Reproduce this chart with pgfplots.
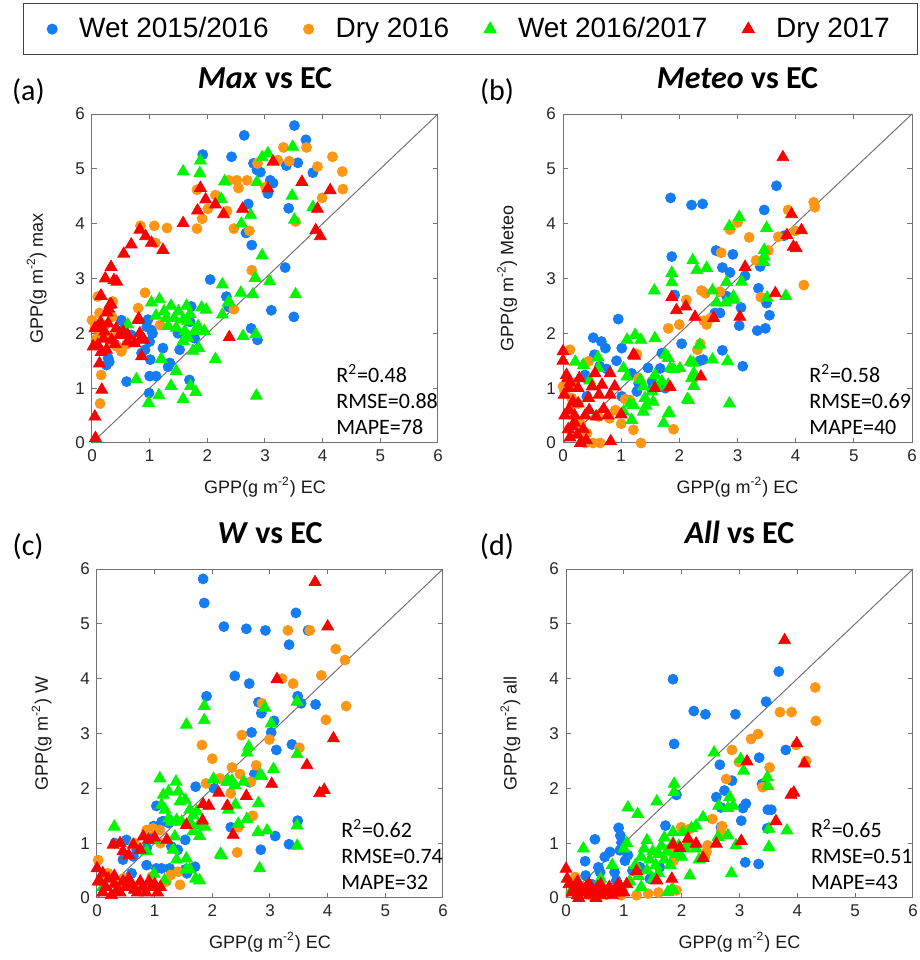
\documentclass[border=0pt]{standalone}
\usepackage{fontspec}
\setmainfont{Liberation Sans}
\newfontfamily\calibri{Carlito}
\usepackage{pgfplots}
\pgfplotsset{compat=1.18}

\definecolor{cblue}{RGB}{20,125,245}
\definecolor{corange}{RGB}{255,150,20}
\definecolor{cgreen}{RGB}{0,245,0}
\definecolor{cred}{RGB}{250,0,0}

\pgfplotsset{
  panel/.style={
    scale only axis, height=164.5pt,
    xmin=0, xmax=6, ymin=0, ymax=6,
    xtick={0,1,...,6}, ytick={0,1,...,6},
    tick align=inside, major tick length=2.5pt,
    axis line style={black!55, line width=0.5pt},
    every tick/.style={black!55, line width=0.5pt},
    ticklabel style={font=\fontsize{8.5}{10}\selectfont, text=black!85},
    /pgf/number format/assume math mode=true,
    label style={font=\fontsize{9}{10}\selectfont, text=black!90},
    xlabel={GPP(g m\textsuperscript{-2}) EC},
    xlabel style={at={(axis description cs:0.5,-0.134)}, anchor=center},
    ylabel style={at={(axis description cs:-0.16,0.5)}, anchor=center},
    title style={at={(axis description cs:0.5,1)}, anchor=base, yshift=6.6pt,
      inner sep=0pt, font=\calibri\bfseries\fontsize{16}{17}\selectfont},
    clip=false,
  },
  wetA/.style={only marks, mark=*, mark size=2.5pt, color=cblue},
  dryA/.style={only marks, mark=*, mark size=2.5pt, color=corange},
  wetB/.style={only marks, mark=triangle*, mark size=3.4pt, color=cgreen},
  dryB/.style={only marks, mark=triangle*, mark size=3.4pt, color=cred},
  dotleg/.style={legend image code/.code={\draw[##1] plot coordinates {(0pt,0pt)};}},
  oneone/.style={black!55, line width=0.5pt, forget plot},
}

\newcommand{\stats}[3]{\node[anchor=north west, inner sep=0pt, align=left,
  font=\calibri\fontsize{11}{12.8}\selectfont] at (axis cs:4.23,1.43)
  {R\textsuperscript{2}=#1\\RMSE=#2\\MAPE=#3};}
\newcommand{\panellabel}[2]{\node[anchor=base, inner sep=0pt, yshift=6.6pt,
  font=\calibri\fontsize{15}{16}\selectfont] at (axis description cs:#1,1) {#2};}

\begin{document}
\begin{tikzpicture}
\useasboundingbox (0,0) rectangle (460pt,480pt);

% (a) Max vs EC
\begin{axis}[panel, at={(46pt,258.5pt)}, anchor=south west, width=173pt,
  ylabel={GPP(g m\textsuperscript{-2}) max}, title={\textit{Max} vs EC},
  legend columns=4,
  legend style={at={(axis description cs:1.094,1.258)}, anchor=center,
    draw=black!75, line width=0.5pt, font=\fontsize{14}{16}\selectfont,
    inner xsep=12pt, inner ysep=5pt,
    /tikz/every odd column/.append style={column sep=9pt},
    /tikz/every even column/.append style={column sep=15.5pt}},
]
\addplot[wetA, dotleg] coordinates {
(3.51,5.79) (3.71,5.53) (2.64,5.61) (1.92,5.26) (2.42,5.22) (3.57,5.11) (3.37,5.06) (3.83,4.93)
(2.80,5.10) (2.86,4.98) (2.92,4.94) (3.09,4.79) (3.14,4.74) (3.05,4.55) (2.71,4.36) (3.41,4.28)
(2.67,3.83) (2.77,3.61) (3.35,3.20) (2.05,2.98) (2.33,2.67) (2.37,2.48) (3.11,2.42) (3.50,2.30)
(2.76,2.09) (2.87,1.88) (1.72,2.49) (1.70,2.21) (1.49,2.00) (1.52,1.70) (1.35,1.46) (1.32,1.39)
(1.23,1.73) (1.01,1.52) (1.11,1.22) (1.00,1.22) (0.99,0.91) (0.60,1.12) (1.69,1.15) (0.97,2.25)
(0.95,2.12) (1.03,2.06) (1.00,1.85) (0.92,1.70) (0.51,2.24) (0.28,1.55) (0.25,1.42) (0.86,1.64)
(0.68,1.97) (1.78,1.91) (0.52,2.06) (1.05,2.00) (0.40,1.80) (0.30,1.48)
};
\addplot[dryA, dotleg] coordinates {
(3.72,5.39) (3.32,5.39) (3.22,5.16) (3.42,5.14) (4.17,5.22) (4.34,4.95) (3.91,5.04) (4.35,4.63)
(3.99,4.47) (3.53,4.04) (2.87,5.10) (3.01,4.67) (2.69,4.79) (2.51,4.79) (2.37,4.79) (2.54,4.65)
(2.14,4.52) (2.01,4.27) (1.82,4.62) (1.91,4.09) (1.82,3.91) (2.34,4.23) (2.46,3.91) (2.73,3.87)
(2.77,3.15) (2.46,2.44) (0.84,3.96) (1.08,3.96) (1.30,3.92) (1.10,3.65) (0.92,2.74) (0.80,2.46)
(1.18,2.15) (0.10,2.67) (0.36,2.58) (0.00,2.24) (0.13,2.37) (0.16,2.03) (0.31,1.85) (0.51,1.67)
(0.43,1.76) (0.16,1.24) (0.14,0.72) (0.05,2.10) (0.22,2.15) (0.28,1.95) (0.60,1.80) (0.35,2.30)
(0.08,1.90) (0.45,2.00)
};
\addplot[wetB, dotleg] coordinates {
(3.48,5.40) (3.05,5.28) (2.95,5.21) (1.88,5.15) (1.58,4.95) (1.87,4.92) (2.86,4.76) (2.30,4.77)
(2.24,4.45) (3.47,4.51) (3.83,4.30) (3.51,4.07) (2.75,4.16) (2.59,4.00) (2.95,3.42) (2.83,3.01)
(3.08,2.95) (2.26,2.89) (2.38,2.57) (2.58,2.74) (2.79,2.71) (3.53,2.71) (2.26,2.34) (2.62,1.95)
(2.84,1.98) (2.85,0.86) (2.14,1.53) (1.03,2.56) (1.17,2.62) (1.37,2.50) (1.64,2.50) (1.90,2.47)
(1.98,2.43) (2.36,2.56) (1.11,2.32) (1.29,2.28) (1.43,2.28) (1.58,2.25) (1.66,2.22) (1.32,2.13)
(1.46,2.10) (1.61,2.04) (1.78,2.04) (1.95,2.04) (1.84,2.13) (1.66,1.92) (1.58,1.86) (1.75,1.68)
(1.85,1.73) (1.20,1.53) (0.77,1.16) (1.46,1.31) (1.37,1.04) (1.71,1.04) (1.80,0.93) (1.58,0.80)
(0.98,0.73) (1.16,0.87) (0.62,2.16) (1.25,2.40) (1.50,2.40) (1.70,2.35)
};
\addplot[dryB, dotleg] coordinates {
(3.14,5.13) (3.64,4.76) (4.13,4.61) (3.05,4.64) (3.91,4.27) (3.88,3.88) (3.96,3.77) (1.88,4.65)
(1.97,4.44) (2.14,4.35) (1.83,4.24) (2.28,4.17) (2.61,4.27) (1.58,4.01) (0.83,3.89) (0.93,3.77)
(1.03,3.65) (0.68,3.62) (0.55,3.45) (1.23,3.52) (0.33,3.21) (0.23,3.00) (0.38,2.97) (0.43,2.94)
(0.16,2.68) (0.29,2.45) (0.33,2.53) (2.38,1.93) (0.81,2.27) (0.86,1.58) (0.02,1.76) (0.10,1.79)
(0.25,1.70) (0.16,1.66) (0.28,2.18) (0.22,2.03) (0.42,2.09) (0.54,2.03) (0.48,1.97) (0.62,1.85)
(0.74,1.82) (0.85,1.91) (0.90,1.88) (0.83,2.00) (0.80,2.24) (0.31,2.52) (0.26,2.38) (0.10,2.12)
(0.05,2.09) (0.13,1.45) (0.17,0.97) (0.05,0.48) (0.06,0.09) (0.15,2.68) (0.62,1.97) (0.34,1.88)
(0.20,1.90) (0.40,1.80) (0.15,2.20)
};
\addplot[oneone] coordinates {(0,0) (6,6)};
\legend{Wet 2015/2016, Dry 2016, Wet 2016/2017, Dry 2017}
\stats{0.48}{0.88}{78}
\panellabel{-0.184}{(a)}
\end{axis}

% (b) Meteo vs EC
\begin{axis}[panel, at={(281.5pt,258.5pt)}, anchor=south west, width=174.5pt,
  ylabel={GPP(g m\textsuperscript{-2}) Meteo}, title={\textit{Meteo} vs EC}]
\addplot[wetA] coordinates {
(3.67,4.69) (1.85,4.47) (2.21,4.34) (2.40,4.36) (3.46,4.25) (1.87,3.40) (2.63,3.51) (2.92,3.44)
(2.74,3.20) (2.87,3.11) (3.13,3.05) (3.39,3.22) (3.36,2.82) (1.92,2.70) (2.81,2.68) (3.50,2.55)
(3.06,2.47) (3.55,2.33) (2.61,2.37) (2.70,2.37) (3.03,2.14) (3.34,2.05) (3.48,2.09) (2.74,1.69)
(2.41,1.52) (3.09,1.40) (2.04,1.81) (0.95,2.26) (0.52,1.92) (0.66,1.85) (0.73,1.73) (1.01,1.73)
(0.54,1.61) (0.92,1.50) (1.18,1.27) (1.30,1.09) (1.70,1.64) (1.67,1.36) (1.46,1.37) (0.38,1.24)
(0.36,1.20) (1.53,1.12) (1.53,0.97) (0.41,0.85) (1.01,0.85) (1.27,0.94) (1.76,1.00) (0.63,1.40)
(0.75,1.35) (3.80,3.78) (2.35,1.50)
};
\addplot[dryA] coordinates {
(4.31,4.39) (4.33,4.30) (3.87,4.25) (3.00,4.02) (2.87,3.89) (3.20,3.75) (3.70,3.76) (3.99,3.87)
(4.14,2.88) (3.32,3.33) (3.53,3.51) (2.72,3.47) (2.38,2.78) (2.45,2.73) (2.70,2.76) (3.40,2.66)
(2.12,2.61) (2.42,2.23) (2.47,2.16) (2.54,2.28) (1.81,2.09) (2.00,2.16) (2.31,1.70) (2.36,1.81)
(0.12,1.70) (0.38,1.44) (0.44,1.49) (0.00,1.03) (0.03,0.94) (0.15,0.82) (0.61,0.48) (1.21,0.24)
(1.90,0.25) (1.34,0.00) (0.52,0.00) (0.64,0.00) (0.38,0.00) (1.15,0.78) (1.07,0.80) (1.30,1.18)
(1.27,1.62) (0.20,1.10) (0.26,0.72) (0.12,0.60) (0.41,0.18) (0.10,0.25) (0.90,0.60) (0.80,0.45)
(1.00,0.35) (0.30,0.35)
};
\addplot[wetB] coordinates {
(3.03,4.12) (2.86,3.95) (3.50,3.92) (3.46,3.52) (3.46,3.40) (2.23,3.33) (2.30,3.15) (2.47,3.19)
(1.87,3.10) (1.87,2.93) (1.57,2.78) (2.57,2.78) (2.64,2.56) (2.80,2.56) (2.93,2.67) (2.94,2.61)
(3.07,2.94) (2.81,2.93) (3.51,2.65) (3.83,2.68) (2.86,0.72) (2.57,1.52) (2.83,1.49) (2.35,1.79)
(2.24,1.46) (2.25,1.27) (2.25,1.04) (2.14,0.80) (1.83,0.55) (1.73,0.36) (1.24,1.97) (1.34,1.88)
(1.10,1.88) (1.58,1.91) (1.76,1.61) (1.81,1.55) (2.01,1.36) (2.19,1.48) (2.21,1.18) (2.16,0.78)
(1.81,0.54) (0.21,1.48) (0.35,1.42) (0.60,1.56) (0.61,1.36) (0.46,1.14) (1.04,1.36) (1.10,1.21)
(1.33,1.15) (1.38,1.03) (1.58,1.24) (1.70,1.12) (1.61,1.03) (1.53,0.94) (1.41,0.82) (1.21,0.69)
(1.38,0.57) (1.04,0.57) (1.15,0.72) (1.18,0.42) (1.43,0.68) (1.55,0.75) (1.84,1.36) (1.81,1.06)
(1.90,1.35) (3.45,3.30)
};
\addplot[dryB] coordinates {
(3.78,5.21) (3.93,4.17) (4.10,3.88) (3.85,3.79) (3.96,3.58) (4.01,3.55) (3.13,3.21) (3.65,2.73)
(3.04,2.30) (2.59,2.28) (2.27,2.30) (2.11,2.49) (1.95,2.42) (1.87,2.66) (2.37,1.21) (1.84,1.02)
(1.58,1.00) (1.23,1.59) (0.82,0.03) (0.00,1.67) (0.00,1.50) (0.06,1.24) (0.08,1.18) (0.12,1.10)
(0.10,1.00) (0.26,1.00) (0.28,1.18) (0.55,1.27) (0.81,1.27) (0.67,1.06) (0.50,1.03) (0.89,1.03)
(0.81,0.88) (0.62,0.88) (0.44,0.82) (0.26,0.72) (0.10,0.60) (0.20,0.50) (0.03,0.50) (0.38,0.50)
(0.57,0.48) (0.77,0.50) (1.00,0.52) (1.21,1.61) (0.09,0.25) (0.20,0.37) (0.12,0.10) (0.30,0.00)
(0.40,0.05) (0.02,0.88) (0.17,0.75) (0.15,0.30) (0.25,0.15) (0.35,0.25) (0.45,0.60) (0.70,0.62)
};
\addplot[oneone] coordinates {(0,0) (6,6)};
\stats{0.58}{0.69}{40}
\panellabel{-0.189}{(b)}
\end{axis}

% (c) W vs EC
\begin{axis}[panel, at={(48.5pt,31pt)}, anchor=south west, width=173pt,
  ylabel={GPP(g m\textsuperscript{-2}) W}, title={\textit{W} vs EC}]
\addplot[wetA] coordinates {
(1.84,5.82) (1.86,5.38) (2.20,4.95) (2.59,4.91) (2.92,4.88) (3.45,5.20) (3.33,4.62) (3.66,4.88)
(2.39,4.05) (2.64,3.91) (1.90,3.68) (3.48,3.68) (3.54,3.55) (3.79,3.53) (2.80,3.57) (2.85,3.37)
(3.07,3.23) (3.02,3.02) (2.68,3.02) (3.11,2.70) (3.38,2.80) (1.71,2.03) (2.03,2.00) (2.73,2.26)
(2.65,2.11) (3.48,1.41) (3.09,1.13) (3.33,0.98) (2.84,0.88) (2.32,1.29) (1.03,1.68) (1.12,1.39)
(0.98,1.31) (1.24,1.37) (1.53,1.06) (0.51,1.06) (0.31,1.00) (0.69,0.88) (0.63,0.76) (0.86,0.91)
(0.86,0.60) (1.03,0.54) (1.12,0.54) (1.26,0.54) (1.53,0.52) (1.70,0.57) (1.56,0.45) (1.29,0.94)
(1.40,0.88) (0.60,0.45) (1.15,1.40) (0.90,1.15) (0.45,0.70)
};
\addplot[dryA] coordinates {
(3.31,4.88) (3.69,4.88) (4.14,4.54) (4.30,4.34) (3.89,4.06) (3.21,4.00) (3.40,3.91) (4.32,3.50)
(3.97,3.25) (3.51,2.74) (2.86,3.55) (1.82,2.79) (2.51,2.97) (2.99,2.89) (2.00,2.54) (2.34,2.38)
(2.48,2.26) (2.76,2.42) (2.67,2.12) (1.89,2.09) (2.13,2.18) (2.32,1.91) (2.70,1.50) (2.45,1.29)
(2.43,0.83) (0.86,1.24) (1.09,1.24) (0.97,1.27) (1.28,1.41) (1.10,1.00) (1.41,0.48) (1.44,0.24)
(0.02,0.69) (0.11,0.42) (0.19,0.45) (0.46,0.36) (0.95,0.39) (1.28,0.42) (1.20,0.30) (0.65,1.00)
(0.35,0.25) (0.80,0.20)
};
\addplot[wetB] coordinates {
(1.86,3.50) (1.86,3.24) (1.55,3.16) (2.91,3.47) (3.02,3.18) (3.47,3.58) (2.63,2.76) (2.60,2.65)
(3.47,2.62) (3.06,2.35) (2.83,2.24) (2.86,2.22) (2.02,2.17) (2.28,2.12) (2.34,2.14) (2.80,1.73)
(2.60,1.44) (2.45,1.35) (2.79,1.20) (2.95,1.23) (3.47,1.32) (3.47,0.95) (2.82,0.54) (2.14,0.80)
(1.71,0.35) (1.78,0.32) (1.17,0.32) (1.55,0.52) (0.99,0.44) (0.30,1.30) (1.09,2.18) (1.37,2.12)
(1.24,1.94) (1.15,1.88) (1.41,1.94) (1.44,1.76) (1.53,1.79) (1.12,1.70) (1.18,1.61) (1.61,1.61)
(1.67,1.51) (1.73,1.58) (1.29,1.39) (1.38,1.42) (1.47,1.39) (1.61,1.39) (1.76,1.33) (1.67,1.22)
(1.78,1.13) (1.87,1.30) (1.35,1.12) (1.32,0.88) (1.55,0.72) (1.38,0.70) (1.61,0.52) (2.16,0.78)
(2.28,1.61) (2.40,1.70) (2.54,2.12) (0.86,0.85) (2.25,2.12) (2.39,2.06) (1.24,1.45) (1.00,1.05)
(0.10,0.20)
};
\addplot[dryB] coordinates {
(3.78,5.76) (4.00,4.95) (3.12,3.99) (4.10,2.91) (3.64,2.42) (3.03,2.08) (3.86,1.91) (3.94,1.97)
(2.11,1.92) (2.59,1.86) (2.26,1.68) (2.36,1.15) (1.55,1.33) (1.83,1.41) (1.84,1.71) (1.94,1.68)
(1.21,1.06) (0.80,1.12) (1.00,1.10) (0.89,1.06) (0.63,0.97) (0.28,0.97) (0.40,1.00) (0.45,0.85)
(0.55,0.78) (0.75,0.88) (0.00,0.54) (0.05,0.30) (0.15,0.20) (0.20,0.35) (0.30,0.25) (0.35,0.15)
(0.45,0.30) (0.50,0.20) (0.60,0.25) (0.65,0.15) (0.75,0.30) (0.80,0.20) (0.85,0.10) (0.90,0.30)
(1.00,0.25) (1.05,0.10) (0.95,0.20) (0.10,0.10) (0.25,0.05) (0.40,0.10) (0.55,0.35) (0.70,0.10)
(0.02,0.30) (0.10,0.45) (1.10,0.20) (0.30,0.40)
};
\addplot[oneone] coordinates {(0,0) (6,6)};
\stats{0.62}{0.74}{32}
\panellabel{-0.199}{(c)}
\end{axis}

% (d) All vs EC
\begin{axis}[panel, at={(283pt,31pt)}, anchor=south west, width=173.5pt,
  ylabel={GPP(g m\textsuperscript{-2}) all}, title={\textit{All} vs EC}]
\addplot[wetA] coordinates {
(1.85,3.99) (1.87,2.81) (2.21,3.41) (2.41,3.35) (2.93,3.35) (3.46,3.58) (3.68,4.13) (3.80,2.70)
(3.34,2.56) (2.66,2.43) (2.87,2.14) (2.74,1.96) (2.60,1.84) (2.68,1.65) (3.11,1.72) (3.06,1.64)
(3.39,2.08) (3.49,1.61) (3.55,1.61) (3.48,1.27) (3.03,1.41) (1.91,1.88) (2.68,1.29) (3.10,0.65)
(3.33,0.62) (1.72,1.32) (0.91,1.28) (0.94,1.14) (0.50,1.07) (0.33,0.67) (0.34,0.41) (0.56,0.56)
(0.67,0.75) (0.76,0.84) (1.02,0.68) (1.07,0.78) (0.93,0.87) (0.96,1.01) (0.59,0.47) (0.84,0.47)
(0.87,0.32) (1.45,0.35) (1.62,0.56) (1.28,0.56) (0.45,0.25) (1.15,0.50)
};
\addplot[dryA] coordinates {
(4.31,3.84) (4.32,3.23) (3.70,3.39) (3.90,3.39) (3.98,2.79) (4.15,2.50) (3.32,2.99) (3.20,2.90)
(3.52,2.38) (3.40,2.02) (2.87,2.70) (2.99,2.48) (2.77,2.17) (2.53,1.44) (2.70,1.31) (2.68,1.20)
(2.45,0.96) (2.43,0.84) (2.40,0.75) (1.99,1.29) (2.14,1.26) (1.86,0.68) (1.91,0.14) (1.42,0.08)
(1.22,0.05) (0.16,0.38) (0.10,0.26) (0.24,0.11) (0.41,0.05) (0.70,0.06) (1.10,0.29) (1.60,0.10)
(0.95,0.05) (1.80,0.85) (2.20,0.95) (0.30,0.20)
};
\addplot[wetB] coordinates {
(2.56,2.65) (3.02,2.53) (3.07,2.32) (3.48,2.20) (3.49,2.04) (1.87,2.08) (1.87,1.93) (1.07,1.65)
(1.24,1.53) (1.57,1.76) (2.83,1.84) (2.89,1.68) (2.64,1.68) (2.80,1.64) (2.80,1.14) (2.63,1.11)
(3.51,1.26) (3.82,1.23) (3.51,0.93) (2.94,0.96) (2.86,0.45) (0.30,0.90) (2.37,1.47) (2.25,1.32)
(2.17,1.27) (2.02,1.20) (1.85,1.20) (1.20,0.60) (1.30,0.75) (1.35,0.90) (1.40,0.50) (1.45,0.70)
(1.50,0.85) (1.55,0.60) (1.60,0.80) (1.65,0.95) (1.70,0.70) (1.75,0.85) (1.80,0.60) (1.85,1.00)
(1.90,0.80) (1.95,0.95) (2.00,0.75) (2.05,0.90) (1.25,0.40) (1.50,0.35) (1.60,0.45) (1.10,0.30)
(1.30,0.20) (1.85,0.15) (2.10,1.00) (2.25,0.90) (2.30,0.70) (1.00,0.90) (1.05,1.00) (0.80,0.60)
(0.60,0.35) (2.14,0.41) (1.82,0.14) (1.76,0.11) (1.40,1.05) (1.70,1.10) (0.10,0.15) (0.20,0.05)
};
\addplot[dryB] coordinates {
(3.78,4.70) (3.99,2.82) (4.12,2.45) (3.13,2.49) (3.89,1.88) (3.94,1.92) (3.63,1.40) (3.03,1.04)
(2.60,0.99) (2.25,0.99) (2.11,1.08) (1.85,0.97) (1.97,0.91) (2.37,0.73) (1.83,0.35) (1.57,0.32)
(1.22,0.49) (0.00,0.53) (0.05,0.25) (0.10,0.10) (0.15,0.20) (0.20,0.05) (0.25,0.15) (0.30,0.10)
(0.35,0.20) (0.40,0.05) (0.45,0.15) (0.50,0.10) (0.55,0.20) (0.60,0.05) (0.65,0.15) (0.70,0.10)
(0.75,0.20) (0.80,0.05) (0.85,0.15) (0.90,0.10) (0.95,0.20) (1.00,0.10) (0.20,0.30) (0.40,0.25)
(0.60,0.25) (0.90,0.25) (0.02,0.35) (0.22,0.00) (0.52,0.00) (1.05,0.25)
};
\addplot[oneone] coordinates {(0,0) (6,6)};
\stats{0.65}{0.51}{43}
\panellabel{-0.199}{(d)}
\end{axis}
\end{tikzpicture}
\end{document}
